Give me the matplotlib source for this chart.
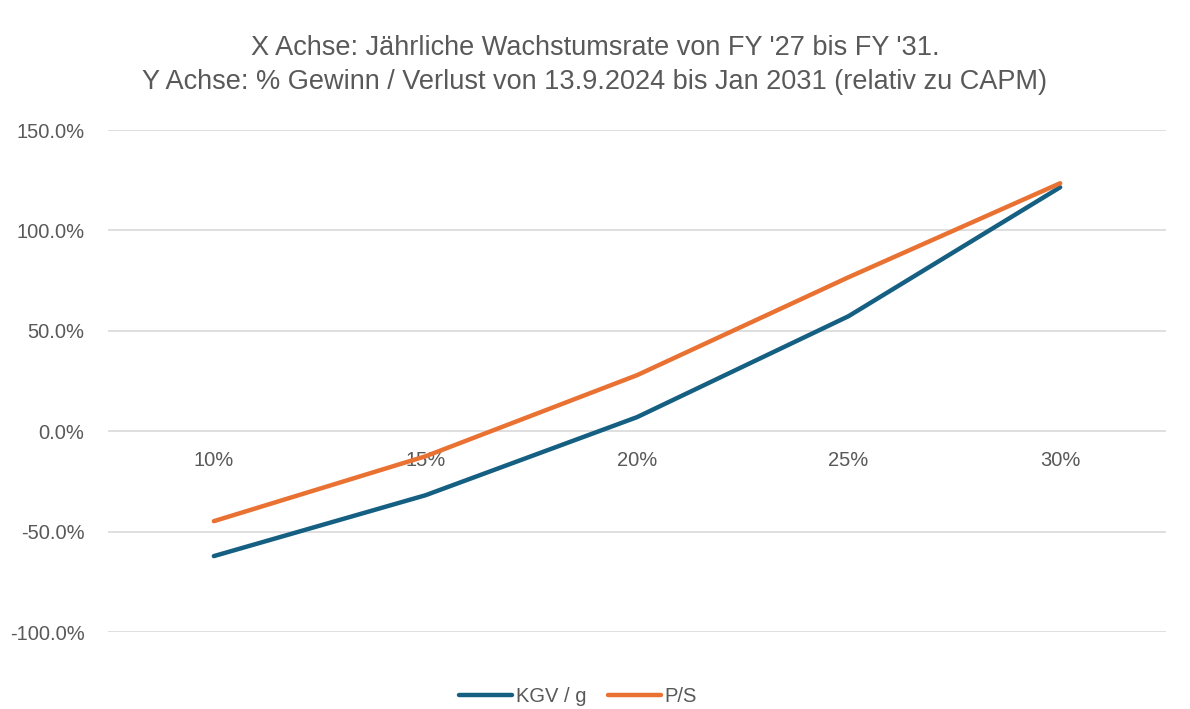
import matplotlib.pyplot as plt
from matplotlib.ticker import FuncFormatter

# growth-rate categories and % gain/loss vs CAPM
growth = ["10%", "15%", "20%", "25%", "30%"]
kgv_g = [-62.2, -31.9, 7.0, 57.3, 121.5]
p_s = [-44.8, -12.5, 27.9, 76.7, 123.5]

plt.rcParams['font.family'] = ['Liberation Sans', 'DejaVu Sans']

fig = plt.figure(figsize=(11.9, 7.09), dpi=100)
ax = fig.add_axes([0.0908, 0.1086, 0.889, 0.708])

x = list(range(len(growth)))
ax.plot(x, kgv_g, color="#156082", lw=3.2, solid_capstyle="round", label="KGV / g", zorder=3)
ax.plot(x, p_s, color="#E97132", lw=3.2, solid_capstyle="round", label="P/S", zorder=3)

ax.set_xlim(-0.5, len(growth) - 0.5)
ax.set_ylim(-100, 150)
ax.set_yticks([-100, -50, 0, 50, 100, 150])
ax.yaxis.set_major_formatter(FuncFormatter(lambda v, p: f"{v:.1f}%"))
ax.set_xticks(x)
ax.set_xticklabels(growth)
ax.grid(axis="y", color="#D9D9D9", lw=1.2)
ax.set_axisbelow(True)

for s in ax.spines.values():
    s.set_visible(False)
ax.spines['bottom'].set_position(('data', 0))
ax.tick_params(axis="both", length=0, colors="#595959", labelsize=14.5)
ax.tick_params(axis="y", pad=17)
ax.tick_params(axis="x", pad=14)

fig.suptitle("X Achse: Jährliche Wachstumsrate von FY '27 bis FY '31.\n"
             "Y Achse: % Gewinn / Verlust von 13.9.2024 bis Jan 2031 (relativ zu CAPM)",
             y=0.95, fontsize=19.5, color="#595959", linespacing=1.4,
             family=['Liberation Sans Narrow', 'Liberation Sans', 'DejaVu Sans'])

fig.legend(loc="lower center", bbox_to_anchor=(0.486, -0.022), ncol=2, frameon=False,
           fontsize=14.5, labelcolor="#595959", handlelength=2.6, handletextpad=0.2,
           columnspacing=1.1)

fig.savefig("out.png", dpi=100)
